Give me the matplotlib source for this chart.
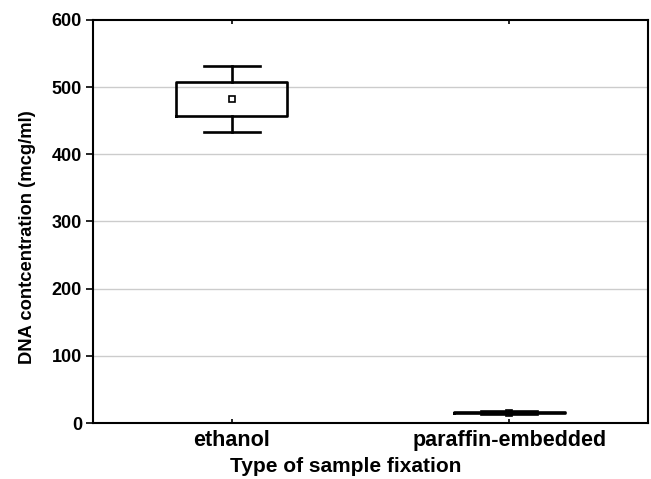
import matplotlib
matplotlib.use("Agg")
import matplotlib.pyplot as plt

plt.rcParams['font.family'] = ['Liberation Sans', 'DejaVu Sans']

# Datos
grupos = ["ethanol", "paraffin-embedded"]
medias = [482.5, 15.5]
caja_inf = [457.5, 14.5]
caja_sup = [507.5, 16.5]
bigote_inf = [433.0, 13.5]
bigote_sup = [532.0, 17.5]

stats = []
for i in range(len(grupos)):
    stats.append({
        'label': grupos[i],
        'mean': medias[i],
        'med': medias[i],
        'q1': caja_inf[i],
        'q3': caja_sup[i],
        'whislo': bigote_inf[i],
        'whishi': bigote_sup[i],
        'fliers': [],
    })

fig = plt.figure(figsize=(6.51, 4.79), dpi=100)
ax = fig.add_axes([93/651, 1 - 423/479, (648-93)/651, (423-20)/479])

ax.bxp(stats, positions=[1, 2], widths=0.4, showmeans=True, showfliers=False,
       boxprops=dict(color='black', linewidth=1.9),
       whiskerprops=dict(color='black', linewidth=1.9),
       capprops=dict(color='black', linewidth=1.9, zorder=4),
       capwidths=0.2,
       medianprops=dict(linewidth=0),
       meanprops=dict(marker='s', markerfacecolor='white', markeredgecolor='black',
                      markersize=5, markeredgewidth=1.2, zorder=2.5),
       zorder=3)

ax.set_xlim(0.5, 2.5)
ax.set_ylim(0, 600)
ax.set_yticks([0, 100, 200, 300, 400, 500, 600])
ax.set_xticks([1, 2])
ax.set_xticklabels(grupos)

for y in [100, 200, 300, 400, 500]:
    ax.axhline(y, color='#cccccc', linewidth=1, zorder=1)

for s in ax.spines.values():
    s.set_linewidth(1.5)

ax.tick_params(axis='y', direction='out', length=5, width=1.2, labelsize=13, pad=3)
ax.tick_params(axis='x', direction='in', length=3, width=1.2, labelsize=15.5, pad=5,
               top=True)
for lab in ax.get_xticklabels() + ax.get_yticklabels():
    lab.set_fontweight('bold')

ax.set_xlabel("Type of sample fixation", fontsize=15, fontweight='bold')
ax.set_ylabel("DNA contcentration (mcg/ml)", fontsize=13.2, fontweight='bold')
ax.xaxis.set_label_coords((346-93)/555, -(457-423)/403)
ax.yaxis.set_label_coords(-(93-36)/555, (423-237)/403)

plt.savefig("out.png", dpi=100)
